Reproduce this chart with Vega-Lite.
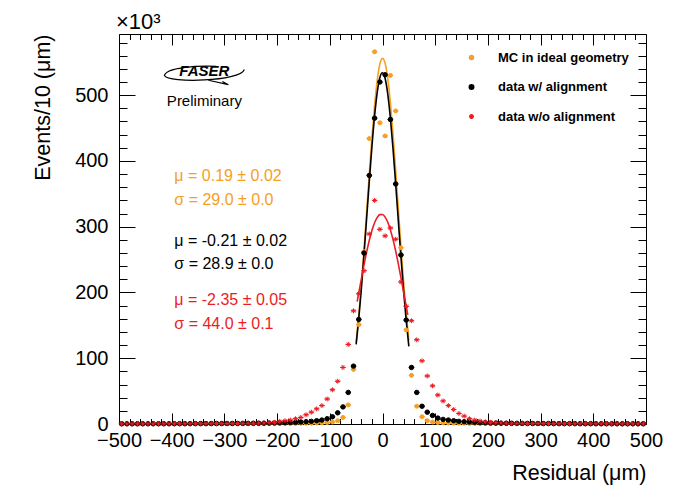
{
"$schema": "https://vega.github.io/schema/vega-lite/v6.json",
"width": 527, "height": 390,
"autosize": "none",
"padding": {"left": 119, "top": 34, "right": 46, "bottom": 65},
"background": "white",
"config": {
 "view": {"stroke": "black", "strokeWidth": 1}
},
"datasets": {
"h": [
{"x":-495,"s":"mc","y":0.14},{"x":-485,"s":"mc","y":0.15},{"x":-475,"s":"mc","y":0.15},{"x":-465,"s":"mc","y":0.16},{"x":-455,"s":"mc","y":0.16},{"x":-445,"s":"mc","y":0.17},{"x":-435,"s":"mc","y":0.18},{"x":-425,"s":"mc","y":0.18},{"x":-415,"s":"mc","y":0.19},{"x":-405,"s":"mc","y":0.2},
{"x":-395,"s":"mc","y":0.2},{"x":-385,"s":"mc","y":0.21},{"x":-375,"s":"mc","y":0.22},{"x":-365,"s":"mc","y":0.24},{"x":-355,"s":"mc","y":0.25},{"x":-345,"s":"mc","y":0.26},{"x":-335,"s":"mc","y":0.28},{"x":-325,"s":"mc","y":0.3},{"x":-315,"s":"mc","y":0.3},{"x":-305,"s":"mc","y":0.3},
{"x":-295,"s":"mc","y":0.35},{"x":-285,"s":"mc","y":0.35},{"x":-275,"s":"mc","y":0.4},{"x":-265,"s":"mc","y":0.4},{"x":-255,"s":"mc","y":0.45},{"x":-245,"s":"mc","y":0.45},{"x":-235,"s":"mc","y":0.5},{"x":-225,"s":"mc","y":0.5},{"x":-215,"s":"mc","y":0.55},{"x":-205,"s":"mc","y":0.6},
{"x":-195,"s":"mc","y":0.65},{"x":-185,"s":"mc","y":0.7},{"x":-175,"s":"mc","y":0.8},{"x":-165,"s":"mc","y":0.9},{"x":-155,"s":"mc","y":1.0},{"x":-145,"s":"mc","y":1.1},{"x":-135,"s":"mc","y":1.3},{"x":-125,"s":"mc","y":1.5},{"x":-115,"s":"mc","y":1.8},{"x":-105,"s":"mc","y":2.2},
{"x":-95,"s":"mc","y":3},{"x":-85,"s":"mc","y":5},{"x":-75,"s":"mc","y":10},{"x":-65,"s":"mc","y":29},{"x":-55,"s":"mc","y":83},{"x":-45,"s":"mc","y":151},{"x":-35,"s":"mc","y":262},{"x":-25,"s":"mc","y":434},{"x":-15,"s":"mc","y":566},{"x":-5,"s":"mc","y":458},
{"x":5,"s":"mc","y":438},{"x":15,"s":"mc","y":530},{"x":25,"s":"mc","y":476},{"x":35,"s":"mc","y":268},{"x":45,"s":"mc","y":143},{"x":55,"s":"mc","y":74},{"x":65,"s":"mc","y":27},{"x":75,"s":"mc","y":11},{"x":85,"s":"mc","y":5},{"x":95,"s":"mc","y":3},
{"x":105,"s":"mc","y":2.2},{"x":115,"s":"mc","y":1.8},{"x":125,"s":"mc","y":1.5},{"x":135,"s":"mc","y":1.3},{"x":145,"s":"mc","y":1.1},{"x":155,"s":"mc","y":1.0},{"x":165,"s":"mc","y":0.9},{"x":175,"s":"mc","y":0.8},{"x":185,"s":"mc","y":0.7},{"x":195,"s":"mc","y":0.65},
{"x":205,"s":"mc","y":0.6},{"x":215,"s":"mc","y":0.55},{"x":225,"s":"mc","y":0.5},{"x":235,"s":"mc","y":0.5},{"x":245,"s":"mc","y":0.45},{"x":255,"s":"mc","y":0.45},{"x":265,"s":"mc","y":0.4},{"x":275,"s":"mc","y":0.4},{"x":285,"s":"mc","y":0.35},{"x":295,"s":"mc","y":0.35},
{"x":305,"s":"mc","y":0.3},{"x":315,"s":"mc","y":0.3},{"x":325,"s":"mc","y":0.3},{"x":335,"s":"mc","y":0.28},{"x":345,"s":"mc","y":0.26},{"x":355,"s":"mc","y":0.25},{"x":365,"s":"mc","y":0.24},{"x":375,"s":"mc","y":0.22},{"x":385,"s":"mc","y":0.21},{"x":395,"s":"mc","y":0.2},
{"x":405,"s":"mc","y":0.2},{"x":415,"s":"mc","y":0.19},{"x":425,"s":"mc","y":0.18},{"x":435,"s":"mc","y":0.18},{"x":445,"s":"mc","y":0.17},{"x":455,"s":"mc","y":0.16},{"x":465,"s":"mc","y":0.16},{"x":475,"s":"mc","y":0.15},{"x":485,"s":"mc","y":0.15},{"x":495,"s":"mc","y":0.14},
{"x":-495,"s":"w","y":0.33},{"x":-485,"s":"w","y":0.34},{"x":-475,"s":"w","y":0.35},{"x":-465,"s":"w","y":0.36},{"x":-455,"s":"w","y":0.38},{"x":-445,"s":"w","y":0.39},{"x":-435,"s":"w","y":0.4},{"x":-425,"s":"w","y":0.42},{"x":-415,"s":"w","y":0.44},{"x":-405,"s":"w","y":0.46},
{"x":-395,"s":"w","y":0.48},{"x":-385,"s":"w","y":0.5},{"x":-375,"s":"w","y":0.52},{"x":-365,"s":"w","y":0.55},{"x":-355,"s":"w","y":0.57},{"x":-345,"s":"w","y":0.6},{"x":-335,"s":"w","y":0.62},{"x":-325,"s":"w","y":0.65},{"x":-315,"s":"w","y":0.7},{"x":-305,"s":"w","y":0.75},
{"x":-295,"s":"w","y":0.8},{"x":-285,"s":"w","y":0.85},{"x":-275,"s":"w","y":0.9},{"x":-265,"s":"w","y":0.95},{"x":-255,"s":"w","y":1.0},{"x":-245,"s":"w","y":1.1},{"x":-235,"s":"w","y":1.2},{"x":-225,"s":"w","y":1.3},{"x":-215,"s":"w","y":1.4},{"x":-205,"s":"w","y":1.6},
{"x":-195,"s":"w","y":1.8},{"x":-185,"s":"w","y":2},{"x":-175,"s":"w","y":2.2},{"x":-165,"s":"w","y":2.5},{"x":-155,"s":"w","y":3},{"x":-145,"s":"w","y":3.5},{"x":-135,"s":"w","y":4},{"x":-125,"s":"w","y":5},{"x":-115,"s":"w","y":6},{"x":-105,"s":"w","y":8},
{"x":-95,"s":"w","y":11},{"x":-85,"s":"w","y":17},{"x":-75,"s":"w","y":26},{"x":-65,"s":"w","y":48},{"x":-55,"s":"w","y":88},{"x":-45,"s":"w","y":159},{"x":-35,"s":"w","y":260},{"x":-25,"s":"w","y":378},{"x":-15,"s":"w","y":465},{"x":-5,"s":"w","y":520},
{"x":5,"s":"w","y":531},{"x":15,"s":"w","y":463},{"x":25,"s":"w","y":365},{"x":35,"s":"w","y":257},{"x":45,"s":"w","y":158},{"x":55,"s":"w","y":86},{"x":65,"s":"w","y":48},{"x":75,"s":"w","y":27},{"x":85,"s":"w","y":18},{"x":95,"s":"w","y":13},
{"x":105,"s":"w","y":9},{"x":115,"s":"w","y":7},{"x":125,"s":"w","y":6},{"x":135,"s":"w","y":5},{"x":145,"s":"w","y":4},{"x":155,"s":"w","y":3.5},{"x":165,"s":"w","y":3},{"x":175,"s":"w","y":2.5},{"x":185,"s":"w","y":2.1},{"x":195,"s":"w","y":1.8},
{"x":205,"s":"w","y":1.6},{"x":215,"s":"w","y":1.4},{"x":225,"s":"w","y":1.3},{"x":235,"s":"w","y":1.2},{"x":245,"s":"w","y":1.1},{"x":255,"s":"w","y":1.0},{"x":265,"s":"w","y":0.95},{"x":275,"s":"w","y":0.9},{"x":285,"s":"w","y":0.85},{"x":295,"s":"w","y":0.8},
{"x":305,"s":"w","y":0.75},{"x":315,"s":"w","y":0.7},{"x":325,"s":"w","y":0.65},{"x":335,"s":"w","y":0.62},{"x":345,"s":"w","y":0.6},{"x":355,"s":"w","y":0.57},{"x":365,"s":"w","y":0.55},{"x":375,"s":"w","y":0.52},{"x":385,"s":"w","y":0.5},{"x":395,"s":"w","y":0.48},
{"x":405,"s":"w","y":0.46},{"x":415,"s":"w","y":0.44},{"x":425,"s":"w","y":0.42},{"x":435,"s":"w","y":0.4},{"x":445,"s":"w","y":0.39},{"x":455,"s":"w","y":0.38},{"x":465,"s":"w","y":0.36},{"x":475,"s":"w","y":0.35},{"x":485,"s":"w","y":0.34},{"x":495,"s":"w","y":0.33},
{"x":-495,"s":"wo","y":0.31},{"x":-485,"s":"wo","y":0.32},{"x":-475,"s":"wo","y":0.33},{"x":-465,"s":"wo","y":0.34},{"x":-455,"s":"wo","y":0.35},{"x":-445,"s":"wo","y":0.36},{"x":-435,"s":"wo","y":0.38},{"x":-425,"s":"wo","y":0.39},{"x":-415,"s":"wo","y":0.4},{"x":-405,"s":"wo","y":0.42},
{"x":-395,"s":"wo","y":0.44},{"x":-385,"s":"wo","y":0.46},{"x":-375,"s":"wo","y":0.48},{"x":-365,"s":"wo","y":0.5},{"x":-355,"s":"wo","y":0.52},{"x":-345,"s":"wo","y":0.55},{"x":-335,"s":"wo","y":0.58},{"x":-325,"s":"wo","y":0.6},{"x":-315,"s":"wo","y":0.65},{"x":-305,"s":"wo","y":0.7},
{"x":-295,"s":"wo","y":0.75},{"x":-285,"s":"wo","y":0.8},{"x":-275,"s":"wo","y":0.85},{"x":-265,"s":"wo","y":0.9},{"x":-255,"s":"wo","y":1.0},{"x":-245,"s":"wo","y":1.1},{"x":-235,"s":"wo","y":1.3},{"x":-225,"s":"wo","y":1.6},{"x":-215,"s":"wo","y":2.0},{"x":-205,"s":"wo","y":2.5},
{"x":-195,"s":"wo","y":4},{"x":-185,"s":"wo","y":5},{"x":-175,"s":"wo","y":6},{"x":-165,"s":"wo","y":8},{"x":-155,"s":"wo","y":10},{"x":-145,"s":"wo","y":14},{"x":-135,"s":"wo","y":18},{"x":-125,"s":"wo","y":23},{"x":-115,"s":"wo","y":28},{"x":-105,"s":"wo","y":38},
{"x":-95,"s":"wo","y":52},{"x":-85,"s":"wo","y":65},{"x":-75,"s":"wo","y":86},{"x":-65,"s":"wo","y":121},{"x":-55,"s":"wo","y":172},{"x":-45,"s":"wo","y":198},{"x":-35,"s":"wo","y":233},{"x":-25,"s":"wo","y":289},{"x":-15,"s":"wo","y":340},{"x":-5,"s":"wo","y":296},
{"x":5,"s":"wo","y":286},{"x":15,"s":"wo","y":298},{"x":25,"s":"wo","y":281},{"x":35,"s":"wo","y":216},{"x":45,"s":"wo","y":179},{"x":55,"s":"wo","y":157},{"x":65,"s":"wo","y":128},{"x":75,"s":"wo","y":96},{"x":85,"s":"wo","y":73},{"x":95,"s":"wo","y":58},
{"x":105,"s":"wo","y":44},{"x":115,"s":"wo","y":35},{"x":125,"s":"wo","y":28},{"x":135,"s":"wo","y":22},{"x":145,"s":"wo","y":16},{"x":155,"s":"wo","y":12},{"x":165,"s":"wo","y":8},{"x":175,"s":"wo","y":6},{"x":185,"s":"wo","y":4.5},{"x":195,"s":"wo","y":3.5},
{"x":205,"s":"wo","y":2.5},{"x":215,"s":"wo","y":2.0},{"x":225,"s":"wo","y":1.6},{"x":235,"s":"wo","y":1.3},{"x":245,"s":"wo","y":1.1},{"x":255,"s":"wo","y":1.0},{"x":265,"s":"wo","y":0.9},{"x":275,"s":"wo","y":0.85},{"x":285,"s":"wo","y":0.8},{"x":295,"s":"wo","y":0.75},
{"x":305,"s":"wo","y":0.7},{"x":315,"s":"wo","y":0.65},{"x":325,"s":"wo","y":0.6},{"x":335,"s":"wo","y":0.58},{"x":345,"s":"wo","y":0.55},{"x":355,"s":"wo","y":0.52},{"x":365,"s":"wo","y":0.5},{"x":375,"s":"wo","y":0.48},{"x":385,"s":"wo","y":0.46},{"x":395,"s":"wo","y":0.44},
{"x":405,"s":"wo","y":0.42},{"x":415,"s":"wo","y":0.4},{"x":425,"s":"wo","y":0.39},{"x":435,"s":"wo","y":0.38},{"x":445,"s":"wo","y":0.36},{"x":455,"s":"wo","y":0.35},{"x":465,"s":"wo","y":0.34},{"x":475,"s":"wo","y":0.33},{"x":485,"s":"wo","y":0.32},{"x":495,"s":"wo","y":0.31}
],
"f": [
{"x":-50,"s":"mc","f":124.4},{"x":-45,"s":"mc","f":165.1},{"x":-40,"s":"mc","f":212.8},{"x":-35,"s":"mc","f":266.3},{"x":-30,"s":"mc","f":323.4},{"x":-25,"s":"mc","f":381.3},{"x":-20,"s":"mc","f":436.3},{"x":-15,"s":"mc","f":484.7},{"x":-10,"s":"mc","f":522.7},{"x":-5,"s":"mc","f":547.2},{"x":0,"s":"mc","f":556.0},
{"x":5,"s":"mc","f":548.4},{"x":10,"s":"mc","f":525.1},{"x":15,"s":"mc","f":488.0},{"x":20,"s":"mc","f":440.3},{"x":25,"s":"mc","f":385.6},{"x":30,"s":"mc","f":327.8},{"x":35,"s":"mc","f":270.5},{"x":40,"s":"mc","f":216.7},{"x":45,"s":"mc","f":168.5},{"x":50,"s":"mc","f":127.2},
{"x":-50,"s":"w","f":121.0},{"x":-45,"s":"w","f":160.7},{"x":-40,"s":"w","f":207.0},{"x":-35,"s":"w","f":258.7},{"x":-30,"s":"w","f":313.9},{"x":-25,"s":"w","f":369.6},{"x":-20,"s":"w","f":422.4},{"x":-15,"s":"w","f":468.5},{"x":-10,"s":"w","f":504.2},{"x":-5,"s":"w","f":526.7},{"x":0,"s":"w","f":534.0},
{"x":5,"s":"w","f":525.4},{"x":10,"s":"w","f":501.7},{"x":15,"s":"w","f":464.9},{"x":20,"s":"w","f":418.2},{"x":25,"s":"w","f":365.0},{"x":30,"s":"w","f":309.2},{"x":35,"s":"w","f":254.2},{"x":40,"s":"w","f":202.9},{"x":45,"s":"w","f":157.1},{"x":50,"s":"w","f":118.1},
{"x":-48,"s":"wo","f":186.2},{"x":-45,"s":"wo","f":199.4},{"x":-40,"s":"wo","f":221.2},{"x":-35,"s":"wo","f":242.2},{"x":-30,"s":"wo","f":261.9},{"x":-25,"s":"wo","f":279.4},{"x":-20,"s":"wo","f":294.3},{"x":-15,"s":"wo","f":306.1},{"x":-10,"s":"wo","f":314.2},{"x":-5,"s":"wo","f":318.4},{"x":0,"s":"wo","f":318.6},
{"x":5,"s":"wo","f":314.6},{"x":10,"s":"wo","f":306.7},{"x":15,"s":"wo","f":295.1},{"x":20,"s":"wo","f":280.4},{"x":25,"s":"wo","f":263.0},{"x":30,"s":"wo","f":243.5},{"x":35,"s":"wo","f":222.5},{"x":40,"s":"wo","f":200.7},{"x":45,"s":"wo","f":178.8},{"x":48,"s":"wo","f":165.8}
],
"a": [
{"t":"μ = 0.19 ± 0.02","s":"mc","x":-395,"y":377},
{"t":"σ = 29.0 ± 0.0","s":"mc","x":-395,"y":340},
{"t":"μ = -0.21 ± 0.02","s":"w","x":-395,"y":278},
{"t":"σ = 28.9 ± 0.0","s":"w","x":-395,"y":243},
{"t":"μ = -2.35 ± 0.05","s":"wo","x":-395,"y":188},
{"t":"σ = 44.0 ± 0.1","s":"wo","x":-395,"y":152}
]
},
"resolve": {"axis": {"x": "independent", "y": "independent"}},
"layer": [
{
 "data": {"name": "h"},
 "mark": {"type": "point", "shape": "M-1,0L1,0", "size": 30, "strokeWidth": 1, "filled": false, "opacity": 1},
 "encoding": {
  "x": {"field": "x", "type": "quantitative", "scale": {"domain": [-500, 500], "nice": false, "zero": false},
   "axis": {"orient": "top", "labels": false, "title": null, "grid": false, "domain": false, "tickColor": "black", "tickSize": -11, "values": [-500,-400,-300,-200,-100,0,100,200,300,400,500]}},
  "y": {"field": "y", "type": "quantitative", "scale": {"domain": [0, 593], "nice": false},
   "axis": {"orient": "right", "labels": false, "title": null, "grid": false, "domain": false, "tickColor": "black", "tickSize": -16, "values": [0,100,200,300,400,500]}},
  "color": {"field": "s", "type": "nominal", "scale": {"domain": ["mc", "w", "wo"], "range": ["#f5a024", "#000000", "#ec1c24"]},
   "legend": {"title": null, "orient": "top-right", "offset": 17, "padding": 0,
    "symbolType": "M-1.75,0L1.75,0M0.2,0A0.2,0.2 0 1,1 -0.2,0A0.2,0.2 0 1,1 0.2,0",
    "symbolSize": 400, "symbolStrokeWidth": 1.5, "labelOffset": 20, "rowPadding": 15.5,
    "labelFont": "Liberation Sans", "labelFontSize": 13, "labelFontWeight": "bold", "labelColor": "black",
    "labelExpr": "datum.label == 'mc' ? 'MC in ideal geometry' : datum.label == 'w' ? 'data w/ alignment' : 'data w/o alignment'"
   }
  }
 }
},
{
 "data": {"name": "f"},
 "mark": {"type": "line", "strokeWidth": 1.6, "interpolate": "monotone"},
 "encoding": {
  "x": {"field": "x", "type": "quantitative", "scale": {"domain": [-500, 500], "nice": false, "zero": false},
   "axis": {"orient": "bottom", "labels": false, "title": null, "grid": false, "domain": false, "tickColor": "black", "tickSize": -5.5,
    "values": [-480,-460,-440,-420,-380,-360,-340,-320,-280,-260,-240,-220,-180,-160,-140,-120,-80,-60,-40,-20,20,40,60,80,120,140,160,180,220,240,260,280,320,340,360,380,420,440,460,480]}},
  "y": {"field": "f", "type": "quantitative", "scale": {"domain": [0, 593], "nice": false},
   "axis": {"orient": "left", "labels": false, "title": null, "grid": false, "domain": false, "tickColor": "black", "tickSize": -8,
    "values": [20,40,60,80,120,140,160,180,220,240,260,280,320,340,360,380,420,440,460,480,520,540,560,580]}},
  "color": {"field": "s", "type": "nominal", "scale": {"domain": ["mc", "w", "wo"], "range": ["#f5a024", "#000000", "#ec1c24"]}}
 }
},
{
 "data": {"name": "h"},
 "mark": {"type": "point", "strokeWidth": 1, "opacity": 1},
 "encoding": {
  "x": {"field": "x", "type": "quantitative", "scale": {"domain": [-500, 500], "nice": false, "zero": false},
   "axis": {"orient": "bottom", "title": "Residual (μm)", "titleAnchor": "end", "titlePadding": 12, "labelPadding": 17, "tickSize": -11, "tickColor": "black",
    "grid": false, "domain": false, "labelFont": "Liberation Sans", "titleFont": "Liberation Sans", "labelColor": "black", "titleColor": "black", "labelFontSize": 20, "titleFontSize": 21.5, "titleFontWeight": "normal", "labelOverlap": false, "labelFlush": false,
    "values": [-500,-400,-300,-200,-100,0,100,200,300,400,500]}},
  "y": {"field": "y", "type": "quantitative", "scale": {"domain": [0, 593], "nice": false},
   "axis": {"orient": "left", "title": "Events/10 (μm)", "titleAnchor": "end", "titlePadding": 20, "labelPadding": 27, "tickSize": -16, "tickColor": "black",
    "grid": false, "domain": false, "labelFont": "Liberation Sans", "titleFont": "Liberation Sans", "labelColor": "black", "titleColor": "black", "labelFontSize": 20, "titleFontSize": 21.5, "titleFontWeight": "normal", "labelOverlap": false, "labelFlush": false,
    "values": [0,100,200,300,400,500]}},
  "fill": {"field": "s", "type": "nominal", "scale": {"domain": ["mc", "w", "wo"], "range": ["#f5a024", "#000000", "#ec1c24"]}, "legend": null},
  "stroke": {"field": "s", "type": "nominal", "scale": {"domain": ["mc", "w", "wo"], "range": ["#f5a024", "#000000", "#ec1c24"]}, "legend": null},
  "shape": {"field": "s", "type": "nominal", "scale": {"domain": ["mc", "w", "wo"], "range": ["circle", "circle", "M-1,0L1,0M0,-1L0,1M-0.7,-0.7L0.7,0.7M-0.7,0.7L0.7,-0.7"]}, "legend": null},
  "size": {"field": "s", "type": "nominal", "scale": {"domain": ["mc", "w", "wo"], "range": [16, 24, 30]}, "legend": null}
 }
},
{
 "data": {"name": "a"},
 "mark": {"type": "text", "align": "left", "baseline": "middle", "fontSize": 16, "font": "Liberation Sans"},
 "encoding": {
  "x": {"field": "x", "type": "quantitative", "scale": {"domain": [-500, 500], "nice": false, "zero": false},
   "axis": {"orient": "top", "labels": false, "title": null, "grid": false, "domain": false, "tickColor": "black", "tickSize": -5.5,
    "values": [-480,-460,-440,-420,-380,-360,-340,-320,-280,-260,-240,-220,-180,-160,-140,-120,-80,-60,-40,-20,20,40,60,80,120,140,160,180,220,240,260,280,320,340,360,380,420,440,460,480]}},
  "y": {"field": "y", "type": "quantitative", "scale": {"domain": [0, 593], "nice": false},
   "axis": {"orient": "right", "labels": false, "title": null, "grid": false, "domain": false, "tickColor": "black", "tickSize": -8,
    "values": [20,40,60,80,120,140,160,180,220,240,260,280,320,340,360,380,420,440,460,480,520,540,560,580]}},
  "text": {"field": "t"},
  "color": {"field": "s", "type": "nominal", "scale": {"domain": ["mc", "w", "wo"], "range": ["#f5a024", "#000000", "#ec1c24"]}}
 }
},
{
 "data": {"values": [{}]},
 "mark": {"type": "text", "text": "FASER", "fontStyle": "italic", "fontWeight": "bold", "fontSize": 15, "font": "Liberation Sans", "align": "center", "baseline": "middle"},
 "encoding": {
  "x": {"datum": -338, "type": "quantitative", "scale": {"domain": [-500, 500], "nice": false, "zero": false}, "axis": null},
  "y": {"datum": 536, "type": "quantitative", "scale": {"domain": [0, 593], "nice": false}, "axis": null}
 }
},
{
 "data": {"values": [{}]},
 "mark": {"type": "point", "shape": "M1,-0.1C0.9,0.2 -0.9,0.25 -1,0.05C-0.95,-0.15 -0.2,-0.2 0.3,-0.18M0.1,0.17L0.6,0.28L0.45,0.2", "size": 6400, "filled": false, "stroke": "black", "strokeWidth": 1.2, "opacity": 1},
 "encoding": {
  "x": {"datum": -338, "type": "quantitative", "scale": {"domain": [-500, 500], "nice": false, "zero": false}, "axis": null},
  "y": {"datum": 533, "type": "quantitative", "scale": {"domain": [0, 593], "nice": false}, "axis": null}
 }
},
{
 "data": {"values": [{}]},
 "mark": {"type": "text", "text": "Preliminary", "fontSize": 15, "font": "Liberation Sans", "align": "center", "baseline": "middle"},
 "encoding": {
  "x": {"datum": -338, "type": "quantitative", "scale": {"domain": [-500, 500], "nice": false, "zero": false}, "axis": null},
  "y": {"datum": 491, "type": "quantitative", "scale": {"domain": [0, 593], "nice": false}, "axis": null}
 }
},
{
 "data": {"values": [{}]},
 "mark": {"type": "text", "text": "×10³", "fontSize": 22, "font": "Liberation Sans", "align": "left", "baseline": "middle", "dx": -3, "dy": -12},
 "encoding": {
  "x": {"datum": -500, "type": "quantitative", "scale": {"domain": [-500, 500], "nice": false, "zero": false}, "axis": null},
  "y": {"datum": 593, "type": "quantitative", "scale": {"domain": [0, 593], "nice": false}, "axis": null}
 }
}
]
}
